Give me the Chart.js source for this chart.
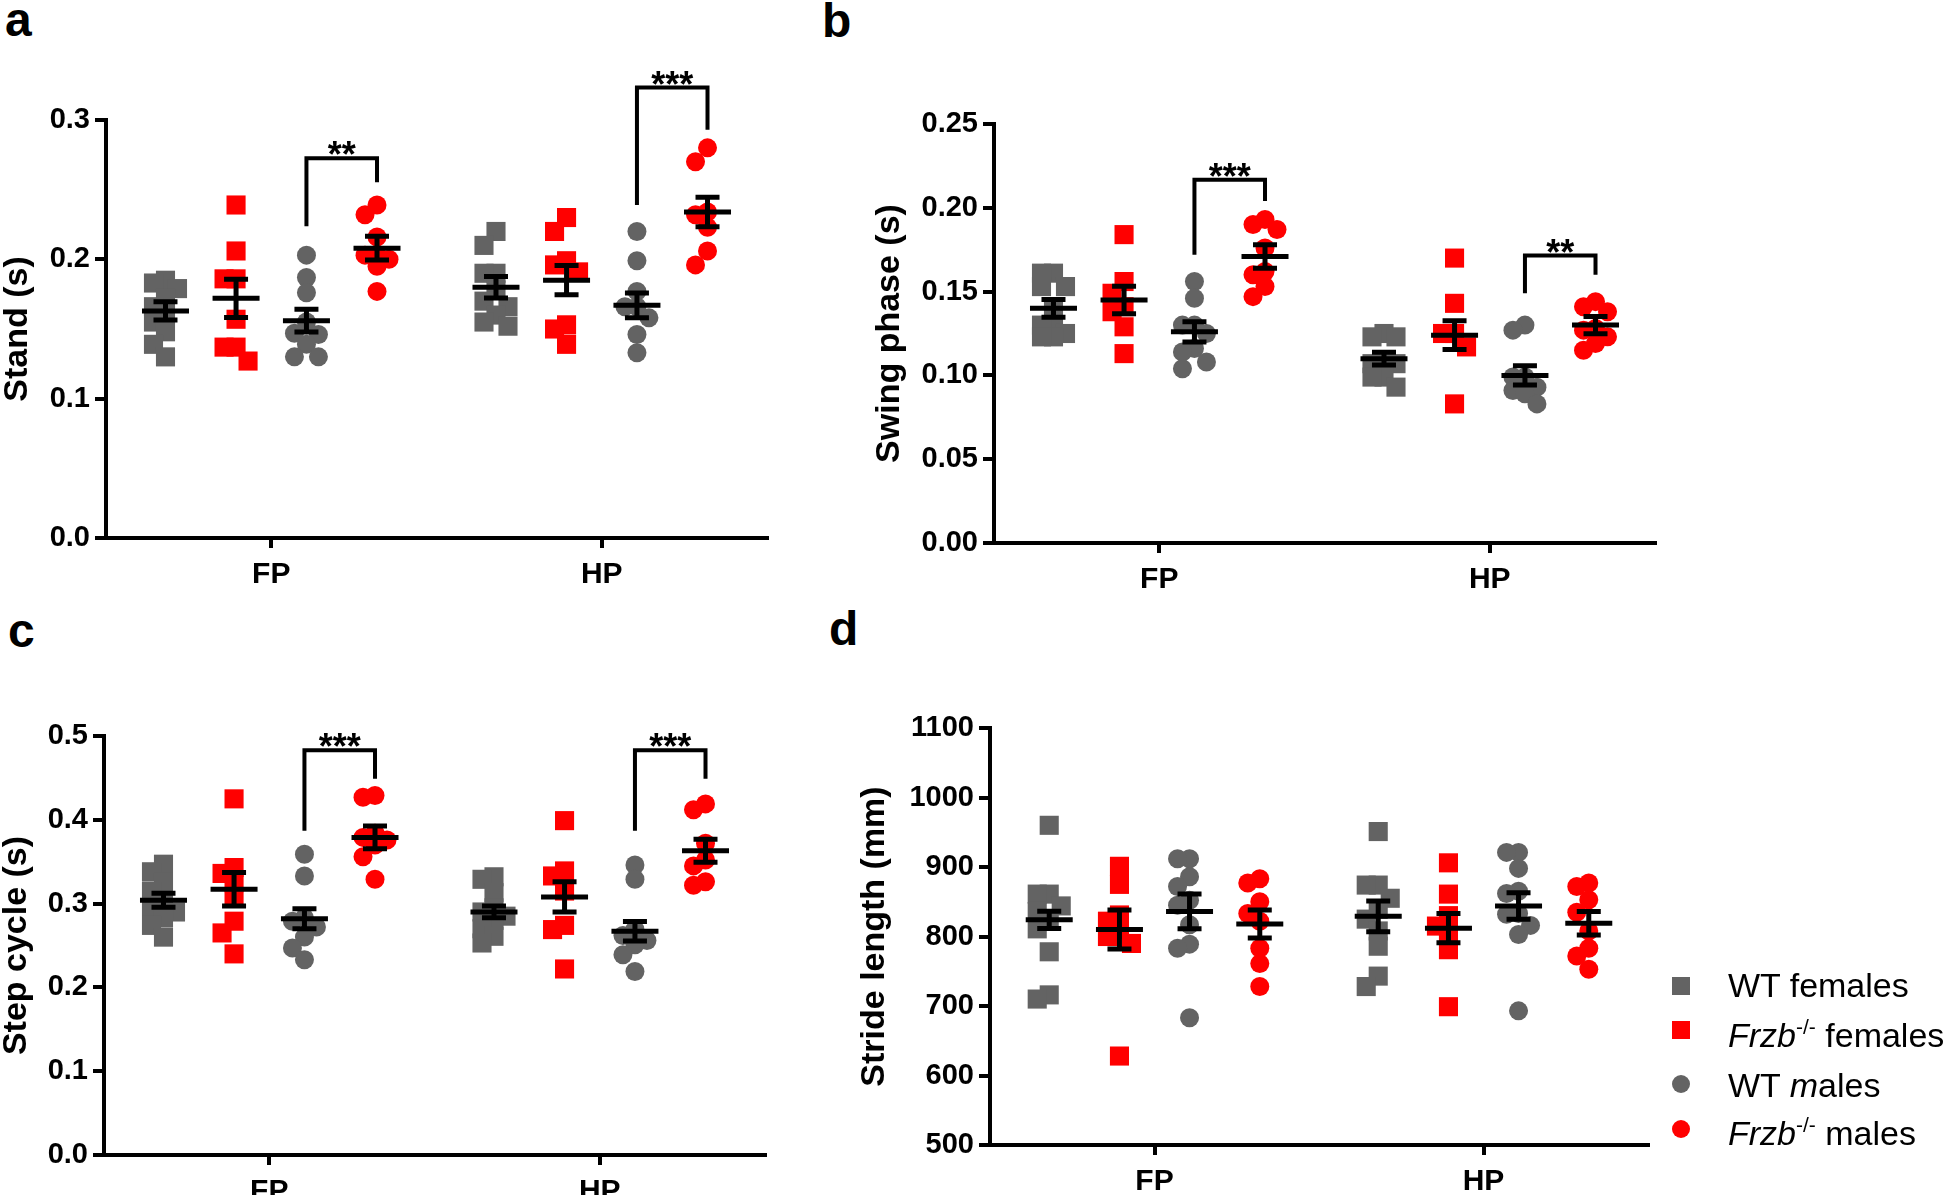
<!DOCTYPE html>
<html>
<head>
<meta charset="utf-8">
<script src="https://cdn.jsdelivr.net/npm/chart.js@4.4.1/dist/chart.umd.min.js"></script>
<style>
  body { margin: 0; background: #fff; width: 1946px; height: 1200px; overflow: hidden; position: relative;
         font-family: 'Liberation Sans', Arial, sans-serif; color: #000; }
  .panel { position: absolute; }
  .letter { position: absolute; font-weight: bold; font-size: 48px; line-height: 48px; }
  .lg-mk { position: absolute; width: 18px; height: 18px; }
  .lg-tx { position: absolute; left: 1728px; font-size: 34px; line-height: 34px; white-space: nowrap; }
  .sup { font-size: 21px; position: relative; top: -13px; font-style: normal; }
</style>
</head>
<body>
<div class="letter" style="left:5px;top:-4px">a</div>
<div class="letter" style="left:822px;top:-3px">b</div>
<div class="letter" style="left:8px;top:607px">c</div>
<div class="letter" style="left:829px;top:605px">d</div>

<canvas id="ca" class="panel" width="810" height="600" style="left:0;top:0"></canvas>
<canvas id="cb" class="panel" width="1126" height="600" style="left:820px;top:0"></canvas>
<canvas id="cc" class="panel" width="810" height="600" style="left:0;top:600px"></canvas>
<canvas id="cd" class="panel" width="1126" height="600" style="left:820px;top:600px"></canvas>

<div id="legend"></div>

<script>
// ---- data ----
const categories = ['FP', 'HP'];
const groupNames = ['WT females', 'Frzb-/- females', 'WT males', 'Frzb-/- males'];

// a: Stand (s)
const standFP = [
  [0.185, 0.183, 0.179, 0.172, 0.166, 0.160, 0.155, 0.148, 0.139, 0.130],
  [0.239, 0.206, 0.186, 0.186, 0.157, 0.137, 0.137, 0.127],
  [0.203, 0.187, 0.176, 0.155, 0.147, 0.146, 0.139, 0.130, 0.130],
  [0.239, 0.232, 0.216, 0.203, 0.203, 0.200, 0.195, 0.177]
];
const standHP = [
  [0.220, 0.210, 0.190, 0.190, 0.178, 0.170, 0.166, 0.160, 0.155, 0.152],
  [0.230, 0.220, 0.199, 0.196, 0.191, 0.153, 0.150, 0.139],
  [0.220, 0.199, 0.177, 0.166, 0.166, 0.158, 0.146, 0.133],
  [0.280, 0.270, 0.234, 0.232, 0.223, 0.206, 0.196]
];
const standMean = [[0.163, 0.172, 0.156, 0.208], [0.180, 0.185, 0.167, 0.234]];
const standSem = [[0.0065, 0.0137, 0.0081, 0.0085], [0.0077, 0.0105, 0.0089, 0.0106]];
// [category, from group, to group, top, left end, right end, label]
const standSig = [[0, 2, 3, 0.2726, 0.2238, 0.2554, '**'], [1, 2, 3, 0.3233, 0.239, 0.293, '***']];

// b: Swing phase (s)
const swingFP = [
  [0.161, 0.161, 0.153, 0.153, 0.141, 0.130, 0.130, 0.125, 0.123, 0.123],
  [0.184, 0.156, 0.149, 0.141, 0.138, 0.129, 0.113],
  [0.156, 0.146, 0.130, 0.130, 0.125, 0.116, 0.114, 0.108, 0.104],
  [0.193, 0.190, 0.187, 0.176, 0.162, 0.160, 0.153, 0.147]
];
const swingHP = [
  [0.125, 0.123, 0.123, 0.109, 0.107, 0.107, 0.099, 0.099, 0.093],
  [0.170, 0.143, 0.125, 0.125, 0.117, 0.083],
  [0.130, 0.127, 0.099, 0.099, 0.093, 0.091, 0.089, 0.083],
  [0.144, 0.141, 0.138, 0.128, 0.127, 0.123, 0.119, 0.115]
];
const swingMean = [[0.140, 0.145, 0.126, 0.171], [0.110, 0.124, 0.100, 0.130]];
const swingSem = [[0.0053, 0.0082, 0.006, 0.007], [0.0038, 0.0086, 0.0057, 0.0052]];
const swingSig = [[0, 2, 3, 0.2168, 0.172, 0.204, '***'], [1, 2, 3, 0.1715, 0.149, 0.160, '**']];

// c: Step cycle (s)
const stepFP = [
  [0.347, 0.338, 0.326, 0.315, 0.301, 0.296, 0.290, 0.283, 0.274, 0.260],
  [0.425, 0.343, 0.336, 0.325, 0.308, 0.279, 0.265, 0.240],
  [0.359, 0.333, 0.283, 0.279, 0.272, 0.260, 0.247, 0.233],
  [0.429, 0.427, 0.384, 0.379, 0.376, 0.370, 0.356, 0.329]
];
const stepHP = [
  [0.332, 0.329, 0.313, 0.295, 0.290, 0.285, 0.280, 0.270, 0.261, 0.253],
  [0.399, 0.339, 0.333, 0.315, 0.274, 0.269, 0.222],
  [0.346, 0.329, 0.269, 0.262, 0.256, 0.251, 0.239, 0.219],
  [0.419, 0.412, 0.372, 0.352, 0.345, 0.326, 0.322]
];
const stepMean = [[0.304, 0.317, 0.282, 0.379], [0.290, 0.308, 0.267, 0.363]];
const stepSem = [[0.0085, 0.020, 0.012, 0.0135], [0.007, 0.018, 0.0115, 0.0137]];
const stepSig = [[0, 2, 3, 0.483, 0.387, 0.449, '***'], [1, 2, 3, 0.483, 0.387, 0.449, '***']];

// d: Stride length (mm)
const strideFP = [
  [960, 861, 861, 844, 836, 825, 811, 778, 716, 710],
  [901, 875, 831, 822, 810, 800, 790, 628],
  [912, 912, 886, 872, 852, 845, 817, 789, 783, 683],
  [883, 877, 850, 833, 822, 783, 761, 728]
];
const strideHP = [
  [951, 874, 874, 855, 839, 825, 808, 786, 743, 728],
  [906, 861, 830, 815, 803, 781, 699],
  [921, 921, 898, 865, 862, 833, 832, 816, 803, 693],
  [877, 872, 853, 835, 808, 783, 772, 753]
];
const strideMean = [[824, 810, 836, 818], [829, 812, 844, 819]];
const strideSem = [[12.5, 28, 25, 20], [22, 21, 19, 17]];
const strideSig = [];

// ---- style ----
const GRAY = '#636363', RED = '#ff0000';
const groupColor = [GRAY, RED, GRAY, RED];
const groupShape = ['rect', 'rect', 'circle', 'circle'];
const groupRadius = [13.5, 13.5, 9.5, 9.5];
const catX = [1, 3];
const groupOffset = [-0.64, -0.213, 0.213, 0.64];
const FONT = "'Liberation Sans', Arial, sans-serif";

const panels = [
  { el: 'ca', title: 'Stand (s)', fp: standFP, hp: standHP, mean: standMean, sem: standSem, sig: standSig,
    yMin: 0, yMax: 0.3, yStep: 0.1, dec: 1,
    yWidth: 106, xHeight: 50, pad: { left: 0, top: 120, right: 43, bottom: 12 }, titlePad: 1 },
  { el: 'cb', title: 'Swing phase (s)', fp: swingFP, hp: swingHP, mean: swingMean, sem: swingSem, sig: swingSig,
    yMin: 0, yMax: 0.25, yStep: 0.05, dec: 2,
    yWidth: 174, xHeight: 50, pad: { left: 0, top: 124, right: 291, bottom: 7 }, titlePad: 53 },
  { el: 'cc', title: 'Step cycle (s)', fp: stepFP, hp: stepHP, mean: stepMean, sem: stepSem, sig: stepSig,
    yMin: 0, yMax: 0.5, yStep: 0.1, dec: 1,
    yWidth: 104, xHeight: 40, pad: { left: 0, top: 136, right: 45, bottom: 5 }, titlePad: 0 },
  { el: 'cd', title: 'Stride length (mm)', fp: strideFP, hp: strideHP, mean: strideMean, sem: strideSem, sig: strideSig,
    yMin: 500, yMax: 1100, yStep: 100, dec: 0,
    yWidth: 170, xHeight: 50, pad: { left: 0, top: 128, right: 298, bottom: 5 }, titlePad: 38 }
];

// spread overlapping points sideways (3 columns), like a column scatter
const swarm = {
  id: 'swarm',
  afterDatasetsUpdate(chart) {
    const STEP = 12, MIN_D = 14;
    chart.data.datasets.forEach((ds, i) => {
      const byX = {};
      chart.getDatasetMeta(i).data.forEach(p => { (byX[p.x] = byX[p.x] || []).push(p); });
      Object.values(byX).forEach(pts => {
        const base = pts[0].x, placed = [];
        pts.slice().sort((a, b) => a.y - b.y).forEach(p => {
          let best = base, bestD = -1;
          for (const k of [0, -1, 1]) {
            const cx = base + k * STEP;
            const d = placed.reduce((m, q) => Math.min(m, Math.hypot(q.x - cx, q.y - p.y)), Infinity);
            if (d >= MIN_D) { best = cx; break; }
            if (d > bestD) { bestD = d; best = cx; }
          }
          p.x = best;
          placed.push({ x: best, y: p.y });
        });
      });
    });
  }
};

function overlay(cfg) {
  return {
    id: 'overlay',
    afterDatasetsDraw(chart) {
      const { ctx, scales: { x, y } } = chart;
      ctx.save();
      ctx.strokeStyle = '#000';
      ctx.fillStyle = '#000';
      ctx.lineWidth = 5;
      // mean +/- SEM
      cfg.mean.forEach((row, c) => row.forEach((m, g) => {
        const px = x.getPixelForValue(catX[c] + groupOffset[g]);
        const s = cfg.sem[c][g];
        const pm = y.getPixelForValue(m), pt = y.getPixelForValue(m + s), pb = y.getPixelForValue(m - s);
        ctx.beginPath();
        ctx.moveTo(px - 23.5, pm); ctx.lineTo(px + 23.5, pm);
        ctx.moveTo(px, pt); ctx.lineTo(px, pb);
        ctx.moveTo(px - 12, pt); ctx.lineTo(px + 12, pt);
        ctx.moveTo(px - 12, pb); ctx.lineTo(px + 12, pb);
        ctx.stroke();
      }));
      // significance brackets
      ctx.lineWidth = 4;
      ctx.font = 'bold 36px ' + FONT;
      ctx.textAlign = 'center';
      ctx.textBaseline = 'alphabetic';
      cfg.sig.forEach(([c, g1, g2, top, l, r, label]) => {
        const x1 = x.getPixelForValue(catX[c] + groupOffset[g1]);
        const x2 = x.getPixelForValue(catX[c] + groupOffset[g2]);
        const pt = y.getPixelForValue(top);
        ctx.beginPath();
        ctx.moveTo(x1, y.getPixelForValue(l));
        ctx.lineTo(x1, pt);
        ctx.lineTo(x2, pt);
        ctx.lineTo(x2, y.getPixelForValue(r));
        ctx.stroke();
        ctx.fillText(label, (x1 + x2) / 2, pt + 9);
      });
      ctx.restore();
    }
  };
}

panels.forEach(cfg => {
  const datasets = groupNames.map((name, g) => ({
    label: name,
    data: cfg.fp[g].map(v => ({ x: catX[0] + groupOffset[g], y: v }))
      .concat(cfg.hp[g].map(v => ({ x: catX[1] + groupOffset[g], y: v }))),
    pointStyle: groupShape[g],
    pointRadius: groupRadius[g],
    backgroundColor: groupColor[g],
    borderWidth: 0
  }));

  new Chart(document.getElementById(cfg.el), {
    type: 'scatter',
    data: { datasets },
    plugins: [swarm, overlay(cfg)],
    options: {
      responsive: false,
      animation: false,
      events: [],
      layout: { padding: cfg.pad },
      plugins: { legend: { display: false }, tooltip: { enabled: false } },
      scales: {
        x: {
          type: 'linear', min: 0, max: 4, offset: false,
          afterBuildTicks: s => { s.ticks = catX.map(v => ({ value: v })); },
          afterFit: s => { s.height = cfg.xHeight; },
          ticks: {
            callback: v => categories[catX.indexOf(v)],
            color: '#000', padding: 9, maxRotation: 0,
            font: { family: FONT, size: 30, weight: 'bold' }
          },
          grid: { display: true, drawOnChartArea: false, drawTicks: true, tickLength: 10, lineWidth: 4, color: '#000' },
          border: { display: true, width: 4, color: '#000' }
        },
        y: {
          min: cfg.yMin, max: cfg.yMax,
          afterFit: s => { s.width = cfg.yWidth; },
          ticks: {
            stepSize: cfg.yStep,
            callback: v => Number(v).toFixed(cfg.dec),
            color: '#000', padding: 5,
            font: { family: FONT, size: 29, weight: 'bold' }
          },
          grid: { display: true, drawOnChartArea: false, drawTicks: true, tickLength: 11, lineWidth: 4, color: '#000' },
          border: { display: true, width: 4, color: '#000' },
          title: {
            display: true, text: cfg.title, color: '#000',
            padding: { top: cfg.titlePad, bottom: 0 },
            font: { family: FONT, size: 34, weight: 'bold', lineHeight: 1 }
          }
        }
      }
    }
  });
});

// legend (panel d)
const legendRows = [
  { html: 'WT females', mark: 'rect', color: GRAY, cy: 986, base: 997 },
  { html: '<i>Frzb</i><span class="sup">-/-</span> females', mark: 'rect', color: RED, cy: 1030, base: 1047 },
  { html: 'WT <i>m</i>ales', mark: 'circle', color: GRAY, cy: 1084, base: 1097 },
  { html: '<i>Frzb</i><span class="sup">-/-</span> males', mark: 'circle', color: RED, cy: 1129, base: 1145 }
];
const legend = document.getElementById('legend');
legendRows.forEach(r => {
  const mk = document.createElement('div');
  mk.className = 'lg-mk';
  mk.style.left = '1672px';
  mk.style.top = (r.cy - 9) + 'px';
  mk.style.background = r.color;
  if (r.mark === 'circle') mk.style.borderRadius = '50%';
  legend.appendChild(mk);
  const tx = document.createElement('div');
  tx.className = 'lg-tx';
  tx.style.top = (r.base - 29) + 'px';
  tx.innerHTML = r.html;
  legend.appendChild(tx);
});
</script>
</body>
</html>
